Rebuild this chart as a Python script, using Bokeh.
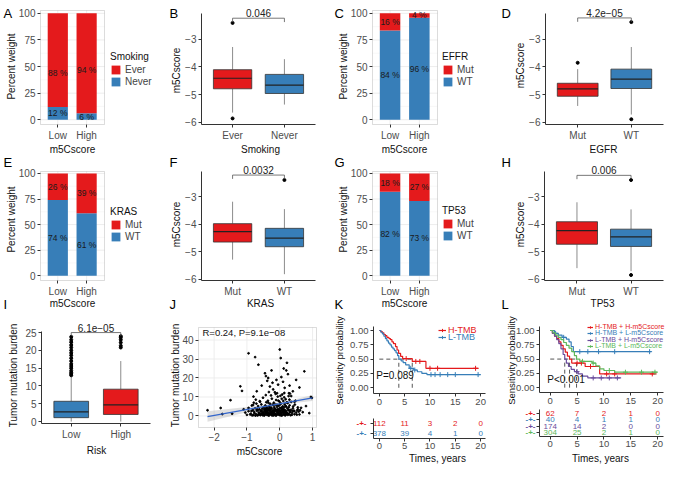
import numpy as np
from bokeh.plotting import figure
from bokeh.layouts import row, column
from bokeh.models import Label, Legend, LegendItem, Range1d, FixedTicker, BoxAnnotation
from bokeh.core.properties import value
from bokeh.embed import file_html
from bokeh.resources import INLINE

FONT = "Liberation Sans"
RED = "#E41A1C"
BLUE = "#377EB8"
PURPLE = "#6A4C9C"
GREEN = "#5DB85B"

# ---------------- data ----------------
BAR_GROUPS = ["Low", "High"]
A_TITLE, A_LABELS = "Smoking", ["Ever", "Never"]
A_TOP, A_BOTTOM = [88, 94], [12, 6]
C_TITLE, C_LABELS = "EFFR", ["Mut", "WT"]
C_TOP, C_BOTTOM = [16, 4], [84, 96]
E_TITLE, E_LABELS = "KRAS", ["Mut", "WT"]
E_TOP, E_BOTTOM = [26, 39], [74, 61]
G_TITLE, G_LABELS = "TP53", ["Mut", "WT"]
G_TOP, G_BOTTOM = [18, 27], [82, 73]

B_CATS = ["Ever", "Never"]
B_Q1, B_MED, B_Q3 = [-4.79, -4.96], [-4.41, -4.66], [-4.10, -4.27]
B_LO, B_HI = [-5.65, -5.36], [-3.28, -3.72]
B_OUT_X, B_OUT_Y = [1, 1], [-2.41, -5.86]
B_P, B_BR = "0.046", -2.24

D_CATS = ["Mut", "WT"]
D_Q1, D_MED, D_Q3 = [-5.06, -4.78], [-4.79, -4.44], [-4.59, -4.08]
D_LO, D_HI = [-5.41, -5.72], [-4.08, -3.28]
D_OUT_X, D_OUT_Y = [1, 2, 2], [-3.85, -2.38, -5.89]
D_P, D_BR = "4.2e\u221205", -2.23

F_CATS = ["Mut", "WT"]
F_Q1, F_MED, F_Q3 = [-4.65, -4.82], [-4.27, -4.51], [-3.98, -4.15]
F_LO, F_HI = [-5.29, -5.82], [-3.18, -3.45]
F_OUT_X, F_OUT_Y = [2], [-2.39]
F_P, F_BR = "0.0032", -2.21

H_CATS = ["Mut", "WT"]
H_Q1, H_MED, H_Q3 = [-4.73, -4.81], [-4.23, -4.46], [-3.91, -4.18]
H_LO, H_HI = [-5.60, -5.71], [-3.20, -3.46]
H_OUT_X, H_OUT_Y = [2, 2], [-2.39, -5.85]
H_P, H_BR = "0.006", -2.22

I_CATS = ["Low", "High"]
I_Q1, I_MED, I_Q3 = [1.1, 2.0], [2.7, 4.7], [5.7, 9.1]
I_LO, I_HI = [0.0, 0.0], [12.6, 17.0]
I_LOW_OUT = [13.0, 13.4, 13.8, 14.3, 15.0, 15.6, 16.2, 17.0, 17.8, 18.6, 19.3, 20.0, 20.8, 21.5, 22.3, 23.0, 23.8]
I_HIGH_OUT = [20.8, 21.3, 22.2, 23.0, 23.6, 24.0]
I_P, I_BR = "6.1e\u221205", 25.0

J_X = [-2.2, -1.8, -1.75, -1.5, -1.45, -1.2, -1.15, -1.1, -1.05, -0.95,
       -0.95, -0.9, -0.85, -0.8, -0.75, -0.7, -0.65, -0.6, -0.55, -0.45,
       -0.42, -0.38, -0.35, -0.3, -0.25, -0.22, -0.2, -0.15, -0.1, -0.05,
       0.0, 0.03, 0.05, 0.1, 0.12, 0.15, 0.2, 0.22, 0.25, 0.28,
       0.3, 0.35, 0.4, 0.45, 0.5, 0.55, 0.6, 0.62, 0.7, 0.75,
       0.8, 0.9, 0.95, 0.98,
       -0.88, -0.82, -0.80, -0.78, -0.75, -0.72, -0.70, -0.68, -0.66, -0.64,
       -0.62, -0.60, -0.58, -0.56, -0.55, -0.53, -0.52, -0.50, -0.49, -0.48,
       -0.46, -0.45, -0.44, -0.43, -0.42, -0.41, -0.40, -0.39, -0.38, -0.37,
       -0.36, -0.35, -0.34, -0.33, -0.32, -0.31, -0.30, -0.29, -0.28, -0.27,
       -0.26, -0.25, -0.24, -0.23, -0.22, -0.21, -0.20, -0.19, -0.18, -0.17,
       -0.16, -0.15, -0.14, -0.13, -0.12, -0.11, -0.10, -0.09, -0.08, -0.07,
       -0.06, -0.05, -0.04, -0.03, -0.02, -0.01, 0.00, 0.01, 0.02, 0.03,
       0.04, 0.05, 0.06, 0.07, 0.08, 0.09, 0.10, 0.11, 0.12, 0.13,
       0.14, 0.15, 0.16, 0.17, 0.18, 0.19, 0.20, 0.22, 0.24, 0.26,
       0.28, 0.30, 0.32, 0.35, 0.38, 0.40, 0.43, 0.46, 0.50, 0.55,
       -0.86, -0.81, -0.77, -0.73, -0.69, -0.65, -0.61, -0.57, -0.54, -0.51,
       -0.47, -0.445, -0.425, -0.405, -0.385, -0.365, -0.345, -0.325, -0.305, -0.285,
       -0.265, -0.245, -0.225, -0.205, -0.185, -0.165, -0.145, -0.125, -0.105, -0.085,
       -0.065, -0.045, -0.025, -0.005, 0.015, 0.035, 0.055, 0.075, 0.095, 0.115,
       0.135, 0.155, 0.175, 0.195, 0.215, 0.235, 0.255, 0.275, 0.295, 0.315,
       0.34, 0.37, 0.41, 0.44, 0.48, 0.52, 0.58, 0.65, -0.95, -1.0,
       -0.74, -0.63, -0.59, -0.545, -0.505, -0.475, -0.435, -0.395, -0.355, -0.315,
       -0.275, -0.235, -0.195, -0.155, -0.115, -0.075, -0.035, 0.005, 0.045, 0.085,
       0.125, 0.165, 0.205, 0.245, 0.29, 0.33, 0.39, 0.45, 0.53, 0.60,
       -0.67, -0.71, -0.79, -0.84, 0.27, 0.31, -0.08, -0.33, 0.02, 0.14]
J_Y = [3.0, 4.2, 1.0, 8.3, 1.2, 15.6, 13.2, 3.5, 1.8, 33.0,
       2.5, 0.8, 5.5, 10.2, 31.0, 13.0, 27.0, 7.5, 16.0, 22.5,
       21.0, 18.5, 20.0, 15.5, 24.0, 17.5, 14.0, 12.5, 19.0, 16.5,
       35.0, 30.5, 20.5, 18.0, 25.0, 14.8, 24.0, 28.0, 22.0, 12.0,
       16.0, 10.5, 13.0, 7.5, 19.0, 4.5, 15.0, 3.0, 2.0, 23.5,
       5.2, 1.5, 10.0, 9.5,
       1.2, 3.1, 0.5, 2.2, 4.0, 1.0, 2.8, 0.3, 5.2, 1.8,
       3.5, 0.9, 2.4, 6.1, 1.5, 3.9, 0.4, 2.0, 4.6, 1.1,
       3.0, 0.7, 5.5, 2.6, 1.4, 7.2, 3.3, 0.6, 4.1, 2.1,
       8.0, 1.3, 3.7, 0.2, 5.0, 2.7, 1.0, 6.4, 3.2, 0.8,
       4.4, 1.9, 9.1, 2.5, 0.5, 5.8, 3.0, 1.6, 7.0, 2.2,
       4.0, 0.9, 6.0, 3.4, 1.2, 8.4, 2.8, 0.6, 4.8, 2.0,
       10.2, 3.6, 1.0, 5.4, 2.4, 7.6, 1.5, 4.2, 0.8, 6.6,
       2.9, 1.3, 9.0, 3.8, 0.4, 5.1, 2.3, 7.9, 1.1, 4.5,
       0.7, 6.2, 3.1, 1.7, 8.8, 2.6, 4.9, 1.4, 6.8, 3.0,
       0.9, 5.6, 2.2, 7.4, 1.6, 4.0, 2.8, 6.0, 1.8, 3.5,
       2.6, 5.8, 1.5, 8.6, 3.6, 0.6, 7.8, 2.9, 0.9, 9.6,
       3.4, 2.1, 11.0, 4.8, 1.7, 3.0, 6.9, 1.1, 4.3, 2.0,
       10.8, 3.9, 1.4, 6.0, 0.3, 4.7, 2.6, 11.6, 3.2, 5.9,
       1.8, 8.1, 3.3, 0.5, 6.1, 2.1, 4.4, 11.3, 1.9, 3.5,
       9.8, 2.4, 5.3, 0.8, 7.2, 3.9, 1.2, 4.6, 8.6, 2.0,
       3.2, 0.6, 5.0, 2.5, 8.0, 0.7, 2.3, 4.3, 4.2, 0.6,
       0.2, 1.3, 0.4, 2.7, 1.6, 0.2, 3.8, 2.4, 0.4, 3.4,
       1.6, 0.3, 2.7, 1.0, 0.2, 3.1, 0.9, 2.8, 0.2, 3.2,
       2.6, 0.3, 2.0, 0.6, 3.1, 0.4, 2.6, 0.9, 2.9, 0.8,
       3.0, 6.5, 7.0, 0.3, 10.5, 11.8, 12.0, 12.6, 10.6, 12.1]
J_FIT_X = [-2.2, 1.0]
J_FIT_Y = [-0.33, 9.5]
J_BAND_X = [-2.2, -1.5, -1.0, -0.5, 0.0, 0.5, 1.0]
J_BAND_LO = [-3.1, -0.2, 1.9, 4.0, 5.7, 6.9, 7.9]
J_BAND_HI = [2.5, 3.8, 4.7, 5.8, 7.1, 8.9, 11.1]
J_TEXT = "R=0.24, P=9.1e\u221208"

KM_TICKS = [0, 5, 10, 15, 20]
K_H_T = [0, 0.3, 0.6, 0.9, 1.2, 1.5, 1.9, 2.2, 2.5, 2.8, 3.2, 3.5, 3.8, 4.2, 4.6, 6.5, 9.2, 19.6]
K_H_S = [1.0, 0.98, 0.96, 0.93, 0.91, 0.88, 0.86, 0.84, 0.80, 0.77, 0.72, 0.66, 0.60, 0.55, 0.51, 0.46, 0.34, 0.34]
K_H_CENS = [5.3, 7.2, 8.0, 10.0, 11.5, 19.0]
K_L_T = [0, 0.3, 0.6, 0.9, 1.2, 1.5, 1.8, 2.1, 2.4, 2.7, 3.0, 3.3, 3.6, 3.85, 4.3, 4.7, 5.2, 5.9, 6.8, 7.5, 8.4, 9.4, 20.0]
K_L_S = [1.0, 0.97, 0.94, 0.90, 0.86, 0.82, 0.78, 0.75, 0.71, 0.68, 0.65, 0.61, 0.56, 0.50, 0.47, 0.44, 0.40, 0.34, 0.31, 0.28, 0.25, 0.23, 0.23]
K_L_CENS = [6.2, 7.0, 10.2, 11.0, 12.0, 13.5, 15.0, 19.5]
K_MEDIANS = [3.85, 6.5]
K_NAMES = ["H-TMB", "L-TMB"]
K_RISK = [[112, 11, 3, 2, 0], [378, 39, 4, 1, 0]]
K_P = "P=0.089"

L_HH_T = [0, 0.4, 0.8, 1.2, 1.6, 2.0, 2.4, 2.8, 3.2, 3.6, 4.0, 6.5, 9.2, 19.8]
L_HH_S = [1.0, 0.95, 0.90, 0.86, 0.80, 0.74, 0.68, 0.62, 0.55, 0.50, 0.43, 0.37, 0.24, 0.24]
L_HH_CENS = [5.0, 5.8, 7.5, 10.5, 12.0, 19.0]
L_HL_T = [0, 0.8, 1.5, 2.2, 3.0, 3.5, 3.9, 4.3, 18.8]
L_HL_S = [1.0, 0.95, 0.92, 0.88, 0.85, 0.80, 0.72, 0.63, 0.63]
L_HL_CENS = [1.0, 2.5, 5.5, 7.0, 9.0, 12.0, 18.5]
L_LH_T = [0, 0.4, 0.8, 1.2, 1.6, 2.0, 2.4, 2.7, 3.0, 3.4, 3.9, 4.5, 5.2, 6.0, 7.0, 13.2]
L_LH_S = [1.0, 0.95, 0.90, 0.84, 0.77, 0.68, 0.58, 0.50, 0.43, 0.37, 0.32, 0.28, 0.24, 0.20, 0.17, 0.17]
L_LH_CENS = [5.0, 8.0, 9.5, 11.0, 12.5]
L_LL_T = [0, 0.5, 1.0, 1.5, 2.0, 2.5, 3.0, 3.5, 4.0, 4.5, 4.9, 5.5, 7.8, 8.5, 9.2, 10.0, 12.0, 20.0]
L_LL_S = [1.0, 0.96, 0.92, 0.88, 0.84, 0.79, 0.74, 0.69, 0.63, 0.56, 0.50, 0.46, 0.43, 0.38, 0.33, 0.30, 0.27, 0.27]
L_LL_CENS = [6.0, 8.0, 11.0, 14.0, 17.0, 19.5]
L_MEDIANS = [2.7, 3.6, 4.9]
L_NAMES = ["H-TMB + H-m5Cscore", "H-TMB + L-m5Cscore", "L-TMB + H-m5Cscore", "L-TMB + L-m5Cscore"]
L_RISK = [[62, 7, 2, 1, 0], [40, 4, 1, 1, 0], [174, 14, 2, 0, 0], [304, 25, 2, 1, 0]]
L_P = "P<0.001"

# ---------------- layout helpers ----------------
SX = 668 / 684
SY = 466 / 482


def X(v):
    return int(round(v * SX))


def Y(v):
    return int(round(v * SY))


def axis_style(ax, tick_size="10px"):
    ax.major_tick_in = 0
    ax.major_tick_out = 3
    ax.minor_tick_line_color = None
    ax.major_label_standoff = 2
    ax.major_label_text_font = FONT
    ax.major_label_text_font_size = tick_size
    ax.major_label_text_color = "#4D4D4D"
    ax.axis_line_color = "#333333"
    ax.major_tick_line_color = "#333333"


class Panel:
    """A figure whose frame is the whole canvas; the drawn plot area is `frame`
    (reference pixels) and shows the data ranges vxr / vyr."""

    def __init__(self, box, frame, vxr, vyr, tick_size="10px"):
        self.box = box
        bx0, by0, bx1, by1 = box
        W = X(bx1) - X(bx0)
        H = Y(by1) - Y(by0)
        self.W, self.H = W, H
        l = X(frame[0]) - X(bx0)
        r = X(frame[2]) - X(bx0)
        t = Y(frame[1]) - Y(by0)
        b = Y(frame[3]) - Y(by0)
        kx = (vxr[1] - vxr[0]) / (r - l)
        ky = (vyr[1] - vyr[0]) / (b - t)
        xr = (vxr[0] - l * kx, vxr[1] + (W - r) * kx)
        yr = (vyr[0] - (H - b) * ky, vyr[1] + t * ky)
        p = figure(width=W, height=H, x_range=Range1d(*xr), y_range=Range1d(*yr),
                   output_backend="svg", toolbar_location=None, min_border=0)
        p.title.visible = False
        p.outline_line_color = None
        p.background_fill_color = "white"
        p.border_fill_color = "white"
        p.xgrid.visible = False
        p.ygrid.visible = False
        xa, ya = p.xaxis[0], p.yaxis[0]
        axis_style(xa, tick_size)
        axis_style(ya, tick_size)
        xa.fixed_location = vyr[0]
        xa.bounds = tuple(vxr)
        ya.fixed_location = vxr[0]
        ya.bounds = tuple(vyr)
        self.p = p
        self.vxr, self.vyr = vxr, vyr

    def sx(self, ax):
        return X(ax) - X(self.box[0])

    def sy(self, ay):
        return self.H - (Y(ay) - Y(self.box[1]))

    def label(self, ax, ay, text, size="10px", color="#111111", align="left", baseline="middle", angle=0.0):
        self.p.add_layout(Label(x=self.sx(ax), y=self.sy(ay), x_units="screen", y_units="screen",
                                text=text, text_font=FONT, text_font_size=size, text_color=color,
                                text_align=align, text_baseline=baseline, angle=angle))

    def letter(self, ax, ay, t):
        self.label(ax, ay, t, size="13px", color="black", baseline="middle")

    def xtitle(self, ax, ay, t, size="10px"):
        self.label(ax, ay, t, size=size, align="center")

    def ytitle(self, ax, ay, t, size="10px"):
        self.label(ax, ay, t, size=size, align="center", angle=np.pi / 2)


def style_legend(leg, size, gw, gh, lh, spacing=1):
    leg.label_text_font = FONT
    leg.label_text_font_size = size
    leg.title_text_font = FONT
    leg.title_text_font_size = size
    leg.title_text_font_style = "normal"
    leg.title_text_color = "#111111"
    leg.glyph_width = gw
    leg.glyph_height = gh
    leg.label_height = lh
    leg.label_width = 10
    leg.spacing = spacing
    leg.padding = 0
    leg.margin = 0
    leg.border_line_alpha = 0
    leg.background_fill_alpha = 0
    leg.label_standoff = 4
    leg.title_standoff = 2


# ---------------- panel builders ----------------
def bar_panel(box, frame, vyr, bottom, top, labels, title, stacked, leg_x, leg_bottom):
    P = Panel(box, frame, (0.4, 2.62), vyr)
    p = P.p
    p.xaxis.axis_line_color = None
    p.yaxis.axis_line_color = None
    p.xaxis.ticker = FixedTicker(ticks=[1, 2])
    p.xaxis.major_label_overrides = {1: BAR_GROUPS[0], 2: BAR_GROUPS[1]}
    ymaj = [0, 25, 50, 75, 100]
    ymin = [12.5, 37.5, 62.5, 87.5]
    p.yaxis.ticker = FixedTicker(ticks=ymaj)
    x0, x1 = P.vxr
    y0, y1 = P.vyr
    p.segment(x0=x0, y0=ymin, x1=x1, y1=ymin, line_color="#F4F4F4", line_width=0.6)
    p.segment(x0=x0, y0=ymaj, x1=x1, y1=ymaj, line_color="#EBEBEB", line_width=0.9)
    p.segment(x0=[1, 2], y0=y0, x1=[1, 2], y1=y1, line_color="#EBEBEB", line_width=0.9)
    xs = np.array([1.0, 2.0])
    b = np.array(bottom, dtype=float)
    t = np.array(top, dtype=float)
    rb = p.vbar(x=xs, bottom=0, top=b, width=0.7, fill_color=BLUE, line_color=None)
    rt = p.vbar(x=xs, bottom=b, top=b + t, width=0.7, fill_color=RED, line_color=None)
    yb = b / 2
    yt = b + t / 2 if stacked else t / 2
    for yy, vals in ((yb, bottom), (yt, top)):
        p.text(x=xs, y=yy, text=[f"{v} %" for v in vals], text_font=value(FONT),
               text_font_size="8.5px", text_color="#1A1A1A", text_align="center", text_baseline="middle")
    p.add_layout(BoxAnnotation(left=x0, right=x1, bottom=y0, top=y1, fill_color=None,
                               line_color="#8C8C8C", line_width=1))
    leg = Legend(items=[LegendItem(label=labels[0], renderers=[rt]),
                        LegendItem(label=labels[1], renderers=[rb])],
                 title=title, location=(P.sx(leg_x), P.sy(leg_bottom)))
    style_legend(leg, "10px", 11, 11, 11)
    p.add_layout(leg)
    return P


def box_panel(box, frame, vyr, cats, q1, med, q3, lo, hi, out_x, out_y, colors, pval, br,
              width, yticks, vxr=(0.4, 2.6)):
    P = Panel(box, frame, vxr, vyr)
    p = P.p
    xs = np.arange(1, len(cats) + 1, dtype=float)
    p.xaxis.ticker = FixedTicker(ticks=[1, 2])
    p.xaxis.major_label_overrides = {1: cats[0], 2: cats[1]}
    p.yaxis.ticker = FixedTicker(ticks=yticks)
    p.yaxis.major_label_overrides = {v: str(v).replace("-", "\u2212") for v in yticks}
    q1, med, q3, lo, hi = (np.array(a, dtype=float) for a in (q1, med, q3, lo, hi))
    p.segment(x0=xs, y0=lo, x1=xs, y1=q1, line_color="#8C8C8C", line_width=1)
    p.segment(x0=xs, y0=q3, x1=xs, y1=hi, line_color="#8C8C8C", line_width=1)
    p.vbar(x=xs, bottom=q1, top=q3, width=width, fill_color=colors, line_color="#333333", line_width=0.8)
    p.segment(x0=xs - width / 2, y0=med, x1=xs + width / 2, y1=med, line_color="#222222", line_width=1.2)
    p.scatter(out_x, out_y, size=3, color="black")
    d = (vyr[1] - vyr[0]) * 0.035
    p.segment(x0=[xs[0], xs[0], xs[1]], y0=[br - d, br, br - d], x1=[xs[0], xs[1], xs[1]], y1=[br, br, br],
              line_color="#555555", line_width=0.8)
    p.add_layout(Label(x=xs.mean(), y=br, text=pval, y_offset=1, text_align="center", text_baseline="bottom",
                       text_font=FONT, text_font_size="10px", text_color="#222222"))
    return P


def km_main(box, frame, vxr, vyr, curves, medians, names, leg_bottoms, leg_x, leg_size, gw, lh, ptext, pxy):
    P = Panel(box, frame, vxr, vyr, tick_size="9.5px")
    p = P.p
    p.xaxis.ticker = FixedTicker(ticks=KM_TICKS)
    p.yaxis.ticker = FixedTicker(ticks=[0, 0.25, 0.5, 0.75, 1.0])
    p.yaxis.major_label_overrides = {0: "0.00", 0.25: "0.25", 0.5: "0.50", 0.75: "0.75", 1: "1.00"}
    med = np.array(medians)
    p.segment(x0=[0], y0=[0.5], x1=[med.max()], y1=[0.5], line_color="#555555", line_dash="4 3", line_width=1)
    p.segment(x0=med, y0=0, x1=med, y1=0.5, line_color="#555555", line_dash="4 3", line_width=1)
    for (t, s, cens, color), name, bot in zip(curves, names, leg_bottoms):
        t = np.array(t)
        s = np.array(s)
        l = p.step(t, s, mode="after", line_color=color, line_width=1.2)
        cens = np.array(cens)
        cs = s[np.searchsorted(t, cens, side="right") - 1]
        m = p.scatter(cens, cs, marker="cross", size=5, line_color=color, line_width=1)
        leg = Legend(items=[LegendItem(label=name, renderers=[l, m])], location=(P.sx(leg_x), P.sy(bot)))
        style_legend(leg, leg_size, gw, lh, lh)
        leg.label_standoff = 2
        leg.label_text_color = color
        p.add_layout(leg)
    p.add_layout(Label(x=pxy[0], y=pxy[1], text=ptext, text_align="left", text_baseline="middle",
                       text_font=FONT, text_font_size="10px", text_color="#111111"))
    return P


def km_table(box, frame, vxr, risk, colors, sym_x):
    n = len(risk)
    P = Panel(box, frame, vxr, (0.4, n + 0.6), tick_size="9.5px")
    p = P.p
    p.xaxis.ticker = FixedTicker(ticks=KM_TICKS)
    p.xaxis.major_label_standoff = 1
    p.yaxis.ticker = FixedTicker(ticks=list(range(1, n + 1)))
    p.yaxis.major_label_overrides = {i: "" for i in range(1, n + 1)}
    for i, (counts, color) in enumerate(zip(risk, colors)):
        yrow = n - i
        p.text(x=KM_TICKS, y=[yrow] * len(KM_TICKS), text=[str(c) for c in counts], text_font=value(FONT),
               text_font_size="8px", text_color=color, text_align="center", text_baseline="middle")
        p.add_layout(Label(x=P.sx(sym_x), y=yrow, x_units="screen", y_units="data", text="-+-",
                           text_font=FONT, text_font_size="8px", text_color=color, text_font_style="bold",
                           text_align="center", text_baseline="middle"))
    return P


# ---------------- row 1 ----------------
A = bar_panel((0, 0, 170, 160), (41, 10, 107, 128), (-4.5, 102.7), A_BOTTOM, A_TOP, A_LABELS, A_TITLE,
              False, 113, 90)
A.letter(3, 13.5, "A")
A.ytitle(11, 68, "Percent weight")
A.xtitle(74, 154, "m5Cscore")

B = box_panel((170, 0, 340, 160), (206, 13, 323, 128), (-6.08, -2.07), B_CATS, B_Q1, B_MED, B_Q3, B_LO, B_HI,
              B_OUT_X, B_OUT_Y, [RED, BLUE], B_P, B_BR, 0.74, [-6, -5, -4, -3])
B.letter(173, 13.5, "B")
B.ytitle(180, 72, "m5Cscore")
B.xtitle(266, 154, "Smoking")

C = bar_panel((340, 0, 510, 160), (381, 10, 447, 128), (-4.5, 102.7), C_BOTTOM, C_TOP, C_LABELS, C_TITLE,
              True, 453, 90)
C.letter(342, 13.5, "C")
C.ytitle(351, 68, "Percent weight")
C.xtitle(414, 154, "m5Cscore")

D = box_panel((510, 0, 684, 160), (558, 13, 679, 128), (-6.08, -2.07), D_CATS, D_Q1, D_MED, D_Q3, D_LO, D_HI,
              D_OUT_X, D_OUT_Y, [RED, BLUE], D_P, D_BR, 0.76, [-6, -5, -4, -3])
D.letter(513, 13.5, "D")
D.ytitle(532, 67, "m5Cscore")
D.xtitle(617, 154, "EGFR")

# ---------------- row 2 ----------------
E = bar_panel((0, 160, 170, 323), (41, 177, 107, 290), (-4.7, 101.9), E_BOTTOM, E_TOP, E_LABELS, E_TITLE,
              True, 113, 250)
E.letter(3, 168, "E")
E.letter(3, 314.5, "I")
E.ytitle(11, 227, "Percent weight")
E.xtitle(74, 313, "m5Cscore")

F = box_panel((170, 160, 340, 323), (206, 177, 323, 290), (-6.05, -2.08), F_CATS, F_Q1, F_MED, F_Q3, F_LO, F_HI,
              F_OUT_X, F_OUT_Y, [RED, BLUE], F_P, F_BR, 0.74, [-6, -5, -4, -3])
F.letter(173, 168, "F")
F.letter(173, 314.5, "J")
F.ytitle(180, 232, "m5Cscore")
F.xtitle(266, 313, "KRAS")

G = bar_panel((340, 160, 510, 323), (381, 177, 447, 290), (-4.7, 101.9), G_BOTTOM, G_TOP, G_LABELS, G_TITLE,
              True, 453, 249)
G.letter(342, 168, "G")
G.letter(342, 314.5, "K")
G.ytitle(351, 227, "Percent weight")
G.xtitle(414, 313, "m5Cscore")

H = box_panel((510, 160, 684, 323), (557, 177, 679, 290), (-6.05, -2.08), H_CATS, H_Q1, H_MED, H_Q3, H_LO, H_HI,
              H_OUT_X, H_OUT_Y, [RED, BLUE], H_P, H_BR, 0.76, [-6, -5, -4, -3])
H.letter(513, 168, "H")
H.letter(513, 314.5, "L")
H.ytitle(532, 232, "m5Cscore")
H.xtitle(616, 313, "TP53")

# ---------------- row 3 ----------------
i_out_x = [1] * len(I_LOW_OUT) + [2] * len(I_HIGH_OUT)
i_out_y = I_LOW_OUT + I_HIGH_OUT
I = box_panel((0, 323, 170, 482), (42, 342, 154, 438), (-0.54, 25.3), I_CATS, I_Q1, I_MED, I_Q3, I_LO, I_HI,
              i_out_x, i_out_y, [BLUE, RED], I_P, I_BR, 0.7, [0, 5, 10, 15, 20, 25])
I.ytitle(13, 388, "Tumor mutation burden")
I.xtitle(98, 465, "Risk")

J = Panel((170, 323, 340, 482), (203, 338, 324, 442), (-2.475, 1.12), (-6.08, 46.6))
pj = J.p
pj.xaxis.axis_line_color = None
pj.yaxis.axis_line_color = None
J_XT = [-2, -1, 0, 1]
J_YT = [0, 10, 20, 30, 40]
pj.xaxis.ticker = FixedTicker(ticks=J_XT)
pj.xaxis.major_label_overrides = {v: str(v).replace("-", "\u2212") for v in J_XT}
pj.yaxis.ticker = FixedTicker(ticks=J_YT)
pj.segment(x0=J.vxr[0], y0=J_YT, x1=J.vxr[1], y1=J_YT, line_color="#EBEBEB", line_width=0.9)
pj.segment(x0=J_XT, y0=J.vyr[0], x1=J_XT, y1=J.vyr[1], line_color="#EBEBEB", line_width=0.9)
pj.varea(x=J_BAND_X, y1=J_BAND_LO, y2=J_BAND_HI, fill_color="#999999", fill_alpha=0.3)
pj.scatter(J_X, J_Y, size=1.8, color="black")
pj.line(J_FIT_X, J_FIT_Y, line_color="#3366CC", line_width=1.2)
pj.add_layout(BoxAnnotation(left=J.vxr[0], right=J.vxr[1], bottom=J.vyr[0], top=J.vyr[1], fill_color=None,
                            line_color="#8C8C8C", line_width=1))
J.label(207, 343, J_TEXT, size="9.5px")
J.ytitle(179, 388, "Tumor mutation burden")
J.xtitle(265, 466, "m5Cscore")

K_CURVES = [(K_H_T, K_H_S, K_H_CENS, RED), (K_L_T, K_L_S, K_L_CENS, BLUE)]
K1 = km_main((340, 323, 510, 428), (382, 337, 497, 406), (-1.15, 20.96), (-0.1, 1.07), K_CURVES, K_MEDIANS,
             K_NAMES, [346.5, 354], 449, "9px", 8, 8, K_P, (-0.6, 0.22))
K1.ytitle(347, 372, "Sensitivity probability", size="9.5px")
K2 = km_table((340, 428, 510, 482), (382, 432, 497, 453), (-1.15, 20.96), K_RISK, [RED, BLUE], 370)
K2.xtitle(447, 474, "Times, years")

L_CURVES = [(L_HH_T, L_HH_S, L_HH_CENS, RED), (L_HL_T, L_HL_S, L_HL_CENS, BLUE),
            (L_LH_T, L_LH_S, L_LH_CENS, PURPLE), (L_LL_T, L_LL_S, L_LL_CENS, GREEN)]
L1 = km_main((510, 323, 684, 421), (552, 337, 679, 405), (-2.0, 21.09), (-0.085, 1.07), L_CURVES, L_MEDIANS,
             L_NAMES, [341.5, 348, 354.5, 361], 601, "7px", 6, 6, L_P, (-0.55, 0.14))
L1.ytitle(523, 372, "Sensitivity probability", size="9.5px")
L2 = km_table((510, 421, 684, 482), (552, 423, 679, 451), (-2.0, 21.09), L_RISK, [RED, BLUE, PURPLE, GREEN], 543)
L2.xtitle(614, 474, "Times, years")

layout = column(
    row(A.p, B.p, C.p, D.p),
    row(E.p, F.p, G.p, H.p),
    row(I.p, J.p, column(K1.p, K2.p), column(L1.p, L2.p)),
)

open("out.html", "w").write(file_html(layout, INLINE))
